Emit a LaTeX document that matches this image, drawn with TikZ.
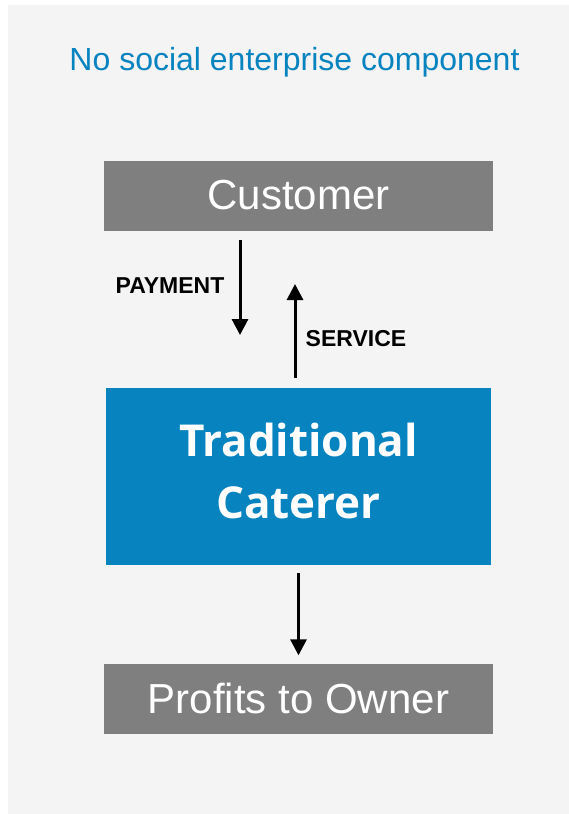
\documentclass[tikz,border=0pt]{standalone}
\usepackage{fontspec}
\setmainfont{Liberation Sans}
\usetikzlibrary{arrows.meta}
\definecolor{panelgray}{HTML}{F4F4F4}
\definecolor{boxgray}{HTML}{7F7F7F}
\definecolor{caterblue}{HTML}{0783C0}
\tikzset{
    graybox/.style = {fill=boxgray, text=white, minimum width=389pt, minimum height=70pt, inner sep=0pt, font=\fontsize{42}{42}\selectfont},
    flow/.style = {-{Triangle[width=16pt,length=16pt]}, line width=3pt},
    flowlabel/.style = {font=\fontsize{23}{23}\selectfont\bfseries, inner sep=0pt}
}
\begin{document}
\begin{tikzpicture}[x=1pt, y=-1pt]
            \useasboundingbox (0,0) rectangle (569,814);
            \fill[panelgray] (8,5) rectangle (569,814);
            \node[text=caterblue, font=\fontsize{32}{32}\selectfont] (title) at (294.5,62) {No social enterprise component};
            \node[graybox] (customer) at (298.5,195.5) {Customer};
            \node[fill=caterblue, text=white, minimum width=385pt, minimum height=177pt, inner sep=0pt, align=center, text depth=12pt,
                font=\fontsize{44}{62}\fontspec{Open Sans Bold}] (caterer) at (298.5,476.5) {Traditional\\Caterer};
            \node[graybox] (owner) at (298.5,698.5) {Profits to Owner};
            \coordinate (payend) at (240,335);
            \coordinate (servend) at (295,284);
            \draw[flow] (customer.south -| payend) ++(0,9) -- (payend);
            \draw[flow] (caterer.north -| servend) ++(0,-10) -- (servend);
            \draw[flow] ([yshift=-8pt]caterer.south -| owner) -- ([yshift=8pt]owner.north);
            \node[flowlabel] (payment) at (170,285.5) {PAYMENT};
            \node[flowlabel] (service) at (356,338.5) {SERVICE};
        \end{tikzpicture}
\end{document}
